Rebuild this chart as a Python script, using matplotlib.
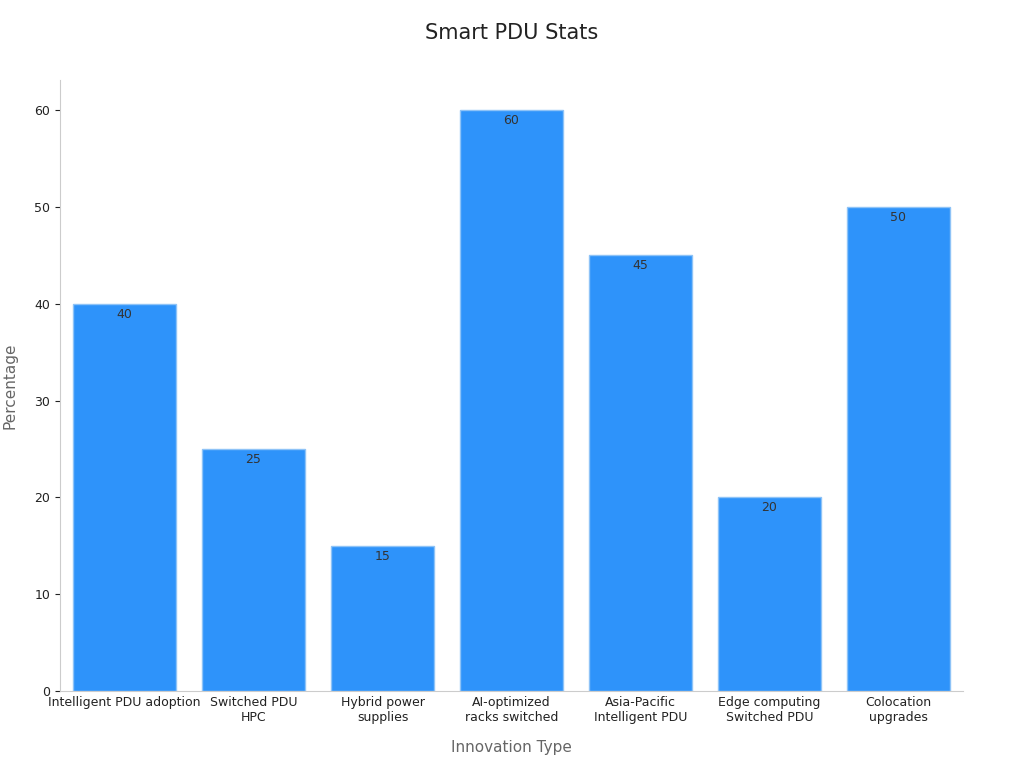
import matplotlib.pyplot as plt

categories = ["Intelligent PDU adoption", "Switched PDU\nHPC", "Hybrid power\nsupplies",
              "AI-optimized\nracks switched", "Asia-Pacific\nIntelligent PDU",
              "Edge computing\nSwitched PDU", "Colocation\nupgrades"]
values = [40, 25, 15, 60, 45, 20, 50]

fig = plt.figure(figsize=(10.24, 7.68), dpi=100)
ax = fig.add_axes([0.0586, 0.1003, 0.8818, 0.7955])
x = range(len(values))
bars = ax.bar(x, values, width=0.8, color="#2E93FA", edgecolor="#8EC3F7", linewidth=1)
for xi, v in zip(x, values):
    ax.text(xi, v - 0.4, f"{v}", ha="center", va="top", fontsize=9, color="#333333")
ax.set_xlim(-0.5, 6.5)
ax.set_ylim(0, 63.1)
ax.set_xticks(list(x))
ax.set_xticklabels(categories, fontsize=9, color="#222222")
ax.set_yticks([0, 10, 20, 30, 40, 50, 60])
ax.tick_params(axis="y", labelsize=9, colors="#222222")
ax.tick_params(axis="x", length=0)
for s in ["top", "right"]:
    ax.spines[s].set_visible(False)
for s in ["left", "bottom"]:
    ax.spines[s].set_color("#cccccc")
ax.set_xlabel("Innovation Type", fontsize=11, color="#666666", labelpad=12)
ax.set_ylabel("Percentage", fontsize=11, color="#666666", labelpad=12)
fig.text(0.5, 0.957, "Smart PDU Stats", ha="center", va="center", fontsize=15, color="#222222")
fig.savefig("out.png", dpi=100)
